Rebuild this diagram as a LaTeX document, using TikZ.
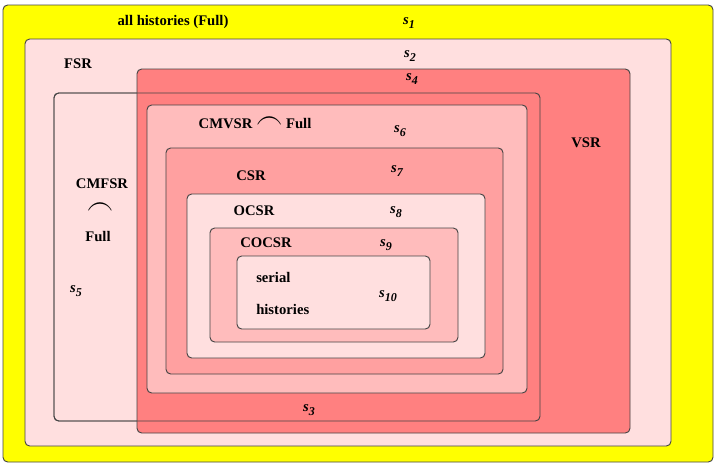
\documentclass[tikz,border=0pt]{standalone}
\usepackage{fontspec}
\setmainfont{Liberation Serif}
\definecolor{yel}{HTML}{FFFF00}
\definecolor{pale}{HTML}{FFDFDF}
\definecolor{vsrred}{HTML}{FF8080}
\definecolor{midpink}{HTML}{FFBCBC}
\definecolor{csrpink}{HTML}{FFA0A0}
\definecolor{edge}{HTML}{444444}
\tikzset{
  setbox/.style={draw=edge, line width=0.7pt, rounded corners=3.5pt},
  lab/.style={font=\fontsize{11}{13}\selectfont\bfseries, inner sep=0pt},
  slab/.style={font=\fontsize{11}{13}\selectfont\bfseries\itshape, inner sep=0pt},
}
\newcommand{\sset}[1]{s\raisebox{-2.5pt}{\fontsize{9}{10}\selectfont\bfseries\itshape #1}}
\newcommand{\capsym}{\smash{\raisebox{-0.5pt}{\scalebox{1.8}[2.3]{$\frown$}}}}
\begin{document}
\begin{tikzpicture}[x=0.75pt,y=-0.75pt]
\useasboundingbox (0,0) rectangle (715,465);
% sets
\path[setbox, fill=yel] (3,5) rectangle (713,462);
\path[setbox, fill=pale] (25,39) rectangle (671,446);
\path[setbox, fill=pale] (54,93) rectangle (540,421);
\path[setbox, fill=vsrred] (137,69) rectangle (630,433);
\path[setbox] (54,93) rectangle (540,421);
\path[setbox, fill=midpink] (147,105) rectangle (527,393);
\path[setbox, fill=csrpink] (166,148) rectangle (503,374);
\path[setbox, fill=pale] (187,194) rectangle (485,358);
\path[setbox, fill=midpink] (210,228) rectangle (458,342);
\path[setbox, fill=pale] (237,256) rectangle (430,329);
% labels
\node[lab] (full) at (173,22) {all histories (Full)};
\node[slab] (s1) at (409,23) {\sset{1}};
\node[lab] (fsr) at (78,64) {FSR};
\node[slab] (s2) at (410,56) {\sset{2}};
\node[slab] (s4) at (412,79) {\sset{4}};
\node[lab] (cmvsr) at (255,124) {CMVSR \capsym\ Full};
\node[slab] (s6) at (400,131) {\sset{6}};
\node[lab] (vsr) at (586,143) {VSR};
\node[lab] (cmfsr) at (102,184) {CMFSR};
\node[lab] (cap) at (100,215) {\capsym};
\node[lab] (cmfull) at (98,236) {Full};
\node[slab] (s5) at (76,291) {\sset{5}};
\node[lab] (csr) at (251,176) {CSR};
\node[slab] (s7) at (397,171) {\sset{7}};
\node[lab] (ocsr) at (254,211) {OCSR};
\node[slab] (s8) at (396,212) {\sset{8}};
\node[lab] (cocsr) at (266,243) {COCSR};
\node[slab] (s9) at (386,245) {\sset{9}};
\node[lab, anchor=west] (serial) at (256,277) {serial};
\node[slab] (s10) at (388,296) {\sset{10}};
\node[lab, anchor=west] (hist) at (256,309) {histories};
\node[slab] (s3) at (309,410) {\sset{3}};
\end{tikzpicture}
\end{document}
